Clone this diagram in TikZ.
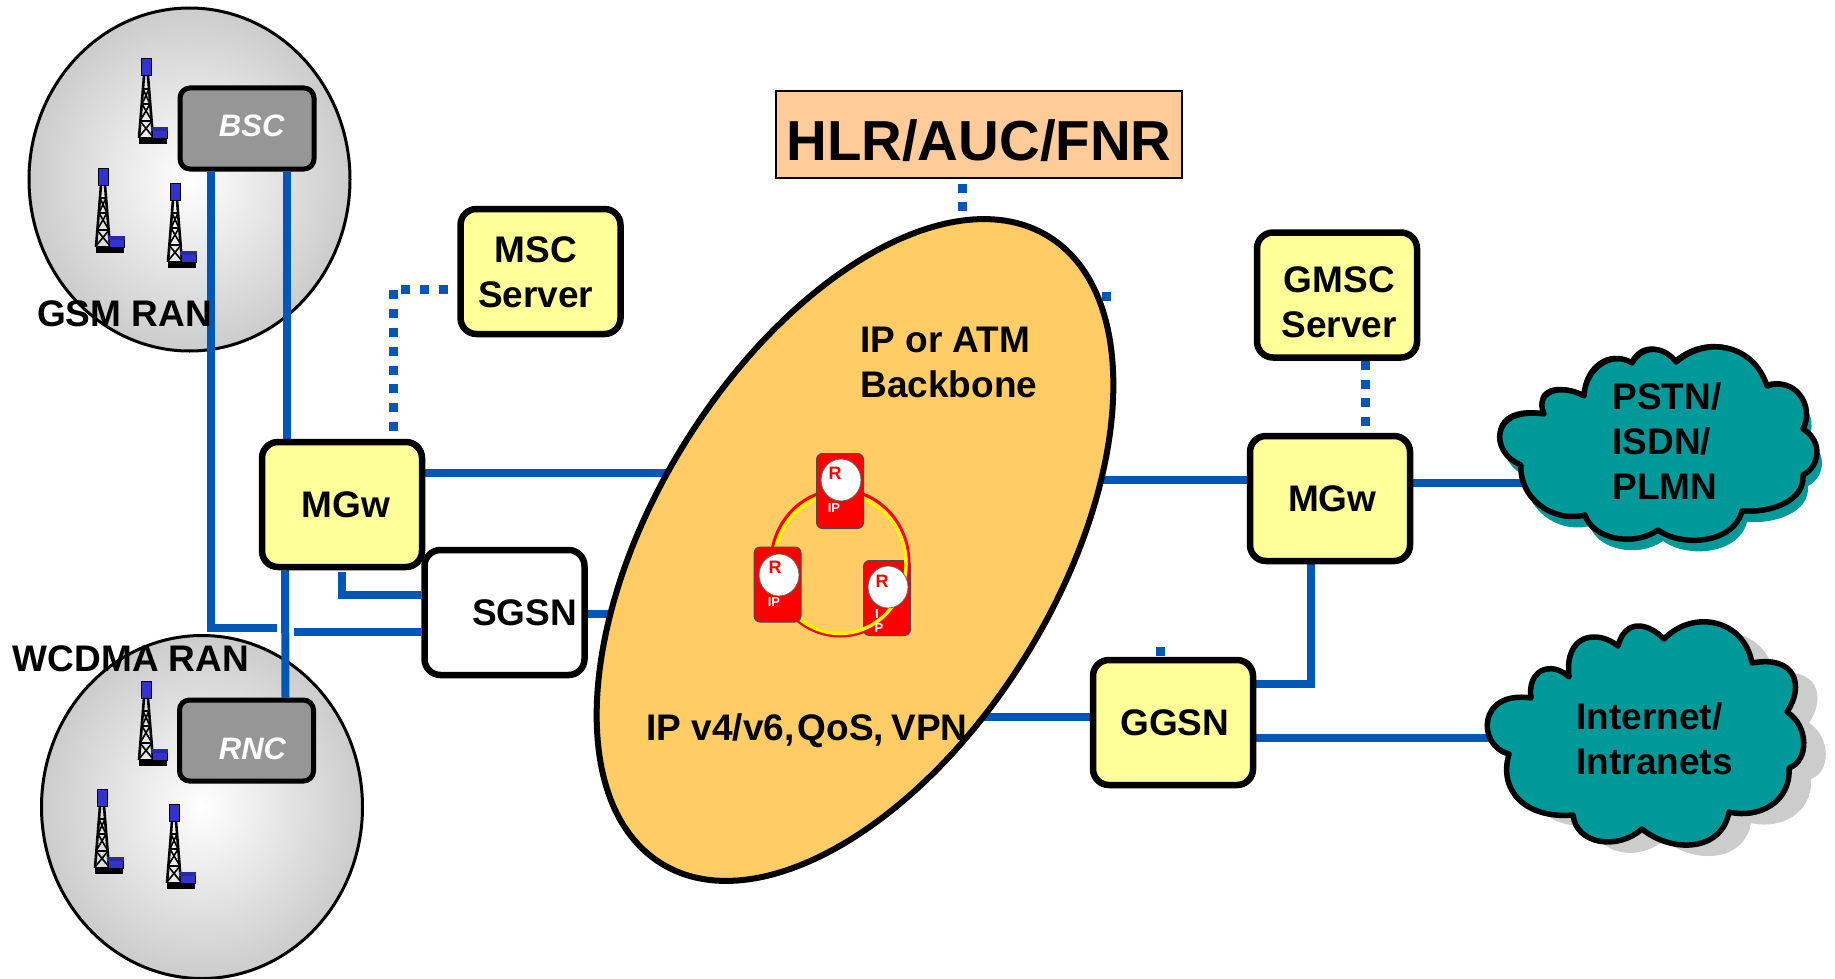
\documentclass[tikz,border=0pt]{standalone}
\usepackage{fontspec}
\setmainfont{Liberation Sans}
\usetikzlibrary{shapes.geometric}
\pgfdeclarelayer{cells}
\pgfdeclarelayer{wires}
\pgfsetlayers{cells,wires,main}
\definecolor{wireblue}{HTML}{0057B8}
\definecolor{boxyellow}{HTML}{FFFF99}
\definecolor{coreorange}{HTML}{FFCC66}
\definecolor{hlrpeach}{HTML}{FFCC99}
\definecolor{cloudteal}{HTML}{009999}
\definecolor{towerblue}{HTML}{3333CC}
\newcommand{\pstnshape}{(1544,414) .. controls (1534,391) and (1561,383) .. (1584,396)
    .. controls (1585,368) and (1612,350) .. (1632,363)
    .. controls (1642,345) and (1663,345) .. (1676,362)
    .. controls (1708,335) and (1754,345) .. (1767,386)
    .. controls (1795,376) and (1815,406) .. (1803,429)
    .. controls (1824,442) and (1819,467) .. (1803,475)
    .. controls (1805,502) and (1769,513) .. (1742,511)
    .. controls (1734,543) and (1683,548) .. (1658,530)
    .. controls (1632,548) and (1592,538) .. (1585,515)
    .. controls (1551,523) and (1519,497) .. (1521,465)
    .. controls (1489,452) and (1490,406) .. (1544,414) -- cycle}
\newcommand{\inetshape}{(1531,698) .. controls (1527,670) and (1551,660) .. (1569,677)
    .. controls (1564,634) and (1597,629) .. (1618,646)
    .. controls (1625,619) and (1647,622) .. (1664,639)
    .. controls (1693,609) and (1744,619) .. (1752,663)
    .. controls (1795,655) and (1805,685) .. (1787,712)
    .. controls (1809,726) and (1809,761) .. (1789,768)
    .. controls (1791,802) and (1759,819) .. (1729,812)
    .. controls (1722,851) and (1673,854) .. (1642,829)
    .. controls (1617,851) and (1576,844) .. (1573,815)
    .. controls (1526,819) and (1498,791) .. (1509,754)
    .. controls (1477,746) and (1477,690) .. (1531,698) -- cycle}
\tikzset{
    bts/.pic={
        \draw[line width=1.3pt] (-2,17) -- (-7,79) (2,17) -- (7,79);
        \draw[line width=.8pt] (-3,30) -- (3,30) (-4,45) -- (4,45) (-6,62) -- (6,62) (-3,30) -- (4,45) (3,30) -- (-4,45) (-4,45) -- (6,62) (4,45) -- (-6,62) (-6,62) -- (7,78) (6,62) -- (-7,78);
        \fill[black] (-7,78) rectangle (21,85);
        \draw[fill=towerblue,line width=.4pt] (6,70) rectangle (21,79);
        \fill[towerblue!80!black] (5,68) rectangle (22,72);
        \draw[fill=towerblue,line width=.5pt] (-5,0) rectangle (5,17);
    }
}
\begin{document}
\begin{tikzpicture}[x=.5pt,y=-.5pt,font=\bfseries,
    wire/.style={draw=wireblue,line width=4pt},
    dotwire/.style={draw=wireblue,line width=4.5pt,dash pattern=on 4.5pt off 4.9pt},
    netbox/.style={rectangle,draw,line width=3.25pt,rounded corners=8pt,fill=boxyellow,minimum width=80pt,minimum height=62.5pt,align=center,inner sep=0pt,font=\fontsize{18.5}{22.5}\bfseries\selectfont},
    ctrlbox/.style={rectangle,draw,line width=2.5pt,rounded corners=5pt,fill=black!41,text=white,minimum width=67pt,minimum height=40.5pt,inner sep=0pt,font=\fontsize{15.5}{18}\bfseries\itshape\selectfont},
    ran/.style={ellipse,draw,line width=1.5pt,shade,inner color=white,outer color=black!20,minimum width=160.5pt,minimum height=171.5pt,inner sep=0pt},
    biglabel/.style={inner sep=0pt,align=left,font=\fontsize{18.5}{22.5}\bfseries\selectfont},
    router/.style={rectangle,draw=black!70,line width=.5pt,rounded corners=3pt,fill=red,minimum width=23.5pt,minimum height=37.5pt,inner sep=0pt},
    routerdisc/.style={ellipse,draw=black!60,line width=.4pt,fill=white,minimum width=20pt,minimum height=21pt,inner sep=0pt},
    routerR/.style={text=red,inner sep=0pt,font=\fontsize{9}{9}\bfseries\selectfont},
    routerIP/.style={text=white,inner sep=0pt,font=\fontsize{6.5}{6.5}\bfseries\selectfont},
    wiredot/.style={fill=wireblue,minimum size=4.5pt,inner sep=0pt}]
    \useasboundingbox (0,0) rectangle (1835,979);
    % radio cells
    \begin{pgfonlayer}{cells}
    \node[ran] (gsm) at (189.5,179.5) {};
    \node[ran] (wcdma) at (202,807) {};
    \end{pgfonlayer}
    \pic at (146,59) {bts};
    \pic at (103,168) {bts};
    \pic at (175,183) {bts};
    \pic at (146,681) {bts};
    \pic at (102,789) {bts};
    \pic at (174,804) {bts};
    \node[ctrlbox] (bsc) at (247,128.5) {\hspace*{4.7pt}\rule[-2.4pt]{0pt}{2.4pt}BSC};
    \node[ctrlbox] (rnc) at (246.5,740.5) {\hspace*{6pt}\rule{0pt}{19pt}RNC};
    \node[biglabel] (gsmlabel) at (124.5,314) {GSM RAN};
    \node[biglabel] (wcdmalabel) at (131,659) {WCDMA RAN};
    % backbone
    \node[ellipse,draw,line width=3pt,fill=coreorange,rotate=58.3,minimum width=368.5pt,minimum height=201pt,inner sep=0pt] (core) at (855,550) {};
    \node[biglabel,anchor=west] (corelabel) at (860,362) {IP or ATM\\Backbone};
    \node[biglabel] (qoslabel) at (807,730.5) {IP v4/v6,\hspace{-3.5pt} QoS,\hspace{-1.5pt} VPN};
    % routers and ring
    \node[router] (rc) at (887,598) {};
    \draw[red,line width=1.5pt] (840,563) ellipse [x radius=69,y radius=73];
    \draw[yellow,line width=1.75pt] (840,564) ellipse [x radius=66,y radius=69.5];
    \node[routerdisc] (rcd) at (888,587) {};
    \node[router] (ra) at (840,491) {};
    \node[routerdisc] (rad) at (841,480) {};
    \node[router] (rb) at (777.5,584.5) {};
    \node[routerdisc] (rbd) at (779,575) {};
    \node[routerR] (raR) at (835,473) {R};
    \node[routerR] (rbR) at (775,567) {R};
    \node[routerR] (rcR) at (882,581) {R};
    \node[routerIP] (raIP) at (834,508) {IP};
    \node[routerIP] (rbIP) at (774,602) {IP};
    \node[routerIP] (rcI) at (877,614) {I};
    \node[routerIP] (rcP) at (879,628) {P};
    % boxes
    \node[netbox] (mgwa) at (342,504.5) {\hspace*{4pt}MGw};
    \node[netbox,fill=white] (sgsn) at (504.5,612.5) {\hspace*{20pt}SGSN};
    \node[netbox] (msc) at (540.5,271.5) {\hspace*{-4.7pt}\rule{0pt}{13.5pt}MSC\\\hspace*{-4.7pt}Server};
    \node[netbox] (gmsc) at (1337,295) {\hspace*{2.3pt}\rule{0pt}{20.3pt}GMSC\\\hspace*{2.3pt}Server};
    \node[netbox] (mgwb) at (1330,498.5) {\hspace*{2.3pt}MGw};
    \node[netbox] (ggsn) at (1173,722.5) {\hspace*{1.8pt}GGSN};
    \node[rectangle,draw,line width=1pt,fill=hlrpeach,minimum width=203pt,minimum height=43pt,inner sep=0pt,font=\fontsize{28.2}{30}\bfseries\selectfont] (hlr) at (979,134.5) {\rule{0pt}{26.5pt}HLR/AUC/FNR};
    \node[wiredot] (dotcore) at (1106,296) {};
    \node[wiredot] (dotggsn) at (1160,651) {};
    % clouds
    \fill[cloudteal,shift={(5,11)}] \pstnshape;
    \fill[black,shift={(-2,-3)}] \pstnshape;
    \draw[line width=2.75pt,line join=round,fill=cloudteal] \pstnshape;
    \fill[black!20,shift={(22,11)}] \inetshape;
    \draw[line width=2.75pt,line join=round,fill=cloudteal] \inetshape;
    \node[biglabel,anchor=west] (pstn) at (1612,441.5) {PSTN/\\ISDN/\\PLMN};
    \node[biglabel,anchor=west] (inet) at (1576,739) {Internet/\\Intranets};
    % stubs
    \coordinate (stubsgsn) at (277,628);
    \coordinate (stubmgw) at (342,572);
    \coordinate (stubmsc) at (393,431);
    % connectors
    \begin{pgfonlayer}{wires}
    \draw[wire] ([xshift=-18pt]bsc.south) |- (stubsgsn);
    \draw[wire] ([xshift=20pt]bsc.south) -- ([xshift=20pt]bsc.south |- mgwa.north);
    \draw[wire] ([xshift=-28.5pt]mgwa.south) -- ([xshift=19.5pt]rnc.north);
    \draw[wire] (stubmgw) |- (sgsn.west |- 0,595);
    \draw[wire] (294,632) -- (sgsn.west |- 0,632);
    \draw[wire] ([yshift=16pt]mgwa.east) -- ([yshift=16pt]mgwa.east -| core.center);
    \draw[wire] (sgsn.east |- 0,614) -- (core.center |- 0,614);
    \draw[wire] (core.center |- 0,480) -- (mgwb.west |- 0,480);
    \draw[wire] (mgwb.east |- 0,483) -- (pstn.center |- 0,483);
    \draw[wire] (1311,562) |- (ggsn.east |- 0,684);
    \draw[wire] (ggsn.east |- 0,738) -- (inet.center |- 0,738);
    \draw[wire] (core.center |- 0,717) -- (ggsn.west |- 0,717);
    \draw[dotwire] (stubmsc) |- (msc.west |- 0,289);
    \draw[dotwire] ([yshift=-2.5pt]hlr.south -| 962,0) -- (962,240);
    \draw[dotwire] (gmsc.south -| 1365,0) -- (mgwb.north -| 1365,0);
    \end{pgfonlayer}
\end{tikzpicture}
\end{document}
